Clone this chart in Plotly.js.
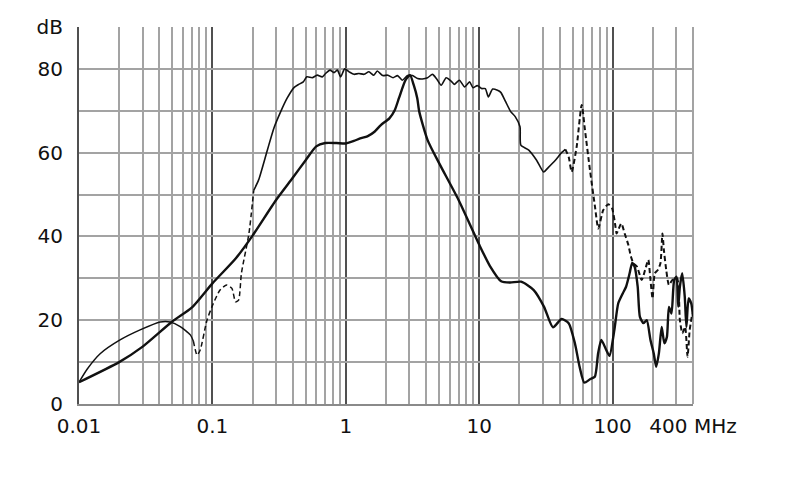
<!DOCTYPE html>
<html>
<head>
<meta charset="utf-8">
<script src="https://cdn.plot.ly/plotly-3.0.1.min.js"></script>
<style>
    html, body { margin: 0; padding: 0; background: #fff; }
    #plotDiv { width: 790px; height: 499px; }
</style>
</head>
<body>
<div id="plotDiv"></div>
<script>
// axis ticks
const xTickVals = [0.01, 0.1, 1, 10, 100, 400]
const xTickText = ['0.01', '0.1', '1', '10', '100', '400 MHz']
const xMinorVals = [0.02, 0.03, 0.04, 0.05, 0.06, 0.07, 0.08, 0.09,
    0.2, 0.3, 0.4, 0.5, 0.6, 0.7, 0.8, 0.9,
    2, 3, 4, 5, 6, 7, 8, 9,
    20, 30, 40, 50, 60, 70, 80, 90,
    200, 300]
const yTickVals = [0, 10, 20, 30, 40, 50, 60, 70, 80, 90]
const yTickText = ['0', '', '20', '', '40', '', '60', '', '80', 'dB']

// thick solid curve
const thickFreq = [0.01, 0.02, 0.03, 0.05, 0.07, 0.1, 0.15, 0.2, 0.3, 0.4, 0.5, 0.6, 0.7, 0.85,
    1.0, 1.15, 1.28, 1.45, 1.64, 1.83, 2.12, 2.33, 2.5, 2.8, 3.03, 3.23, 3.43, 3.55, 4.1, 5, 7,
    10, 12, 14.6, 17, 20.6, 25.6, 30.6, 35.7, 41.4, 46.8, 52.1, 56.5, 61.3, 67.6, 73.5, 77.8,
    82.2, 89.5, 94.7, 103, 110, 119, 126, 134, 140, 146, 154, 160, 170, 180, 192, 203, 212,
    222, 233, 244, 255, 264, 276, 289, 301, 310, 319, 332, 347, 357, 371, 388, 400]
const thickDb = [5.2, 10, 13.7, 19.7, 23, 28.8, 34.8, 40.2, 48.7, 54, 58.2, 61.5, 62.3, 62.3,
    62.2, 62.8, 63.4, 63.9, 65, 66.6, 68.2, 70.2, 73, 77.3, 78.5, 76.1, 73, 69.8, 63, 57.5, 48.7,
    38, 33, 29.3, 29, 29.2, 27.2, 23.2, 18.3, 20.3, 19.3, 14.5, 8.9, 5.1, 5.9, 6.5, 12.1,
    15.3, 12.9, 11.5, 17.7, 24, 26.4, 28, 31.2, 33.7, 32.8, 28, 20.8, 19.3, 20, 15.3, 12.1, 8.9,
    12.1, 18.4, 14.5, 16, 23.2, 21.6, 29.6, 30.4, 23.2, 28, 31.2, 25.6, 18.4, 25.2, 24, 20.8]

// thin curve, split into solid and dashed pieces
const thinLowFreq = [0.01, 0.0115, 0.0144, 0.0203, 0.0287, 0.0406, 0.0483, 0.0574, 0.0683, 0.072]
const thinLowDb = [5.2, 8.3, 12, 15.3, 17.7, 19.6, 19.6, 18.5, 16.5, 15]

const dipFreq = [0.072, 0.0767, 0.081, 0.091, 0.1016, 0.114, 0.128, 0.14, 0.149, 0.157, 0.165, 0.188, 0.204]
const dipDb = [15, 11.7, 12.9, 20, 24, 27.2, 28.4, 27.6, 24.4, 24.8, 31.2, 40.8, 51]

const plateauFreq = [0.204, 0.222, 0.258, 0.29, 0.325, 0.363, 0.41, 0.443, 0.48, 0.51, 0.56, 0.61,
    0.665, 0.705, 0.76, 0.815, 0.865, 0.915, 0.98, 1.06, 1.15, 1.25, 1.37, 1.49, 1.62, 1.72, 1.89,
    2.06, 2.26, 2.44, 2.65, 2.9, 3.16, 3.45, 3.75, 4.1, 4.46, 4.8, 5.18, 5.65, 6.15, 6.5, 7.1,
    7.77, 8.47, 8.97, 9.67, 10.4, 11.1, 11.7, 12.6, 13.7, 14.5, 15.8, 17.2, 18.6, 20.2, 20.5,
    23.5, 26.9, 30.4, 33, 37.2, 41.4, 44.2]
const plateauDb = [51, 53.5, 60.6, 66, 69.8, 73, 75.6, 76.3, 76.9, 78.1, 77.9, 78.5,
    78.1, 78.9, 79.7, 79.1, 79.7, 78.1, 80, 79.3, 78.7, 78.9, 78.7, 79.3, 78.5, 79.5, 78.4,
    78.5, 77.9, 78.4, 77.3, 78.4, 78.4, 77.7, 77.6, 77.9, 78.7, 77.6, 76.1, 77.9, 77.1, 76.3, 77.3,
    75.7, 76.9, 75.5, 76, 75.3, 75.3, 73.3, 75.2, 74.9, 74.4, 72.1, 69.8, 68.6, 66.2, 61.8,
    60.6, 58.2, 55.4, 56.5, 58.2, 60, 60.8]

const highFreq = [44.2, 46.8, 49.3, 53.7, 58.6, 62, 67.6, 73.7, 78, 85, 92.6, 99, 105, 107, 116,
    123, 131, 137, 143, 152, 165, 175, 185, 191, 199, 207, 218, 228, 236, 242, 252, 264, 280,
    304, 319, 333, 349, 364, 378, 395]
const highDb = [60.8, 59, 55.4, 61.4, 71.4, 65.4, 55.8, 47.1, 41.9, 46.3, 47.7, 46.7, 42.3, 40.7, 43.1,
    40.7, 38, 35.2, 33.6, 32.8, 29.6, 32, 34.4, 30.4, 25.2, 31.2, 32, 33.6, 40.7, 36.8, 32, 28.4, 29.6,
    30, 20, 16.9, 18.4, 11.3, 17.7, 21.6]

const ink = '#111111'
const gridGray = '#a3a3a3'

function lineTrace(x, y, width, dash) {
    return {
        type: 'scatter',
        mode: 'lines',
        x: x,
        y: y,
        line: {color: ink, width: width, dash: dash, shape: 'spline', smoothing: 0.6},
        hoverinfo: 'skip',
        showlegend: false
    }
}

let plotData = [
    lineTrace(thinLowFreq, thinLowDb, 1.5, 'solid'),
    lineTrace(dipFreq, dipDb, 1.5, '5px,3px'),
    lineTrace(plateauFreq, plateauDb, 1.6, 'solid'),
    lineTrace(highFreq, highDb, 2, '5px,3px'),
    lineTrace(thickFreq, thickDb, 2.4, 'solid')
]

let plotLayout = {
    width: 790,
    height: 499,
    margin: {l: 79, r: 97, t: 27, b: 95},
    paper_bgcolor: '#ffffff',
    plot_bgcolor: '#ffffff',
    font: {family: '"DejaVu Sans", sans-serif', size: 20, color: '#111111'},
    xaxis: {
        type: 'log',
        range: [-2, Math.log10(400)],
        tickmode: 'array',
        tickvals: xTickVals,
        ticktext: xTickText,
        ticks: '',
        ticklabelstandoff: 3,
        showgrid: true,
        gridcolor: '#505050',
        gridwidth: 2,
        minor: {
            tickmode: 'array',
            tickvals: xMinorVals,
            showgrid: true,
            gridcolor: gridGray,
            gridwidth: 2,
            ticks: ''
        },
        showline: true,
        linecolor: '#8a8a8a',
        linewidth: 2,
        zeroline: false,
        fixedrange: true
    },
    yaxis: {
        range: [0, 90],
        tickmode: 'array',
        tickvals: yTickVals,
        ticktext: yTickText,
        ticks: '',
        ticklabelstandoff: 10,
        showgrid: true,
        gridcolor: gridGray,
        gridwidth: 2,
        showline: true,
        linecolor: '#505050',
        linewidth: 2,
        zeroline: false,
        fixedrange: true
    },
    shapes: [{
        // right border is a light grid line in the original, not a decade line
        type: 'line', xref: 'paper', yref: 'paper',
        x0: 1, x1: 1, y0: 0, y1: 1,
        layer: 'between',
        line: {color: gridGray, width: 2}
    }]
}

Plotly.newPlot('plotDiv', plotData, plotLayout, {displayModeBar: false})
</script>
</body>
</html>
